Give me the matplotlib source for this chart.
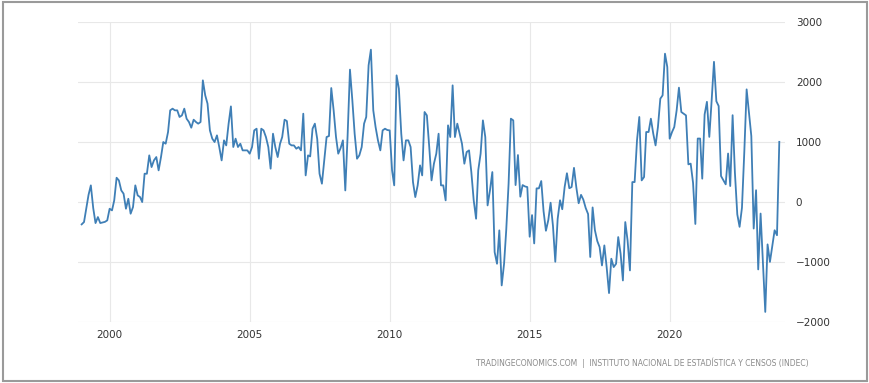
import numpy as np
import pandas as pd
import matplotlib
matplotlib.use("Agg")
import matplotlib.pyplot as plt
import matplotlib.dates as mdates
from matplotlib.patches import Rectangle

# Balanza comercial mensual (USD millones), ene-1999 a dic-2023
valores_por_ano = {
    1999: [-372, -333, -120, 120, 278, -100, -350, -250, -350, -340, -330, -305],
    2000: [-111, -139, 28, 405, 360, 194, 139, -111, 55, -194, -83, 278],
    2001: [111, 83, 0, 472, 472, 778, 583, 694, 750, 528, 750, 1000],
    2002: [972, 1167, 1528, 1556, 1528, 1528, 1417, 1444, 1556, 1389, 1333, 1239],
    2003: [1372, 1333, 1306, 1333, 2028, 1778, 1639, 1194, 1056, 1000, 1111, 917],
    2004: [694, 1028, 944, 1306, 1594, 917, 1056, 917, 972, 861, 861, 861],
    2005: [806, 917, 1194, 1222, 722, 1222, 1194, 1083, 917, 556, 1139, 917],
    2006: [750, 972, 1083, 1372, 1350, 972, 944, 944, 889, 917, 861, 1472],
    2007: [444, 778, 760, 1222, 1306, 1050, 472, 306, 694, 1083, 1100, 1900],
    2008: [1528, 1083, 806, 900, 1028, 194, 1100, 2206, 1694, 1139, 722, 778],
    2009: [917, 1306, 1417, 2278, 2539, 1528, 1250, 1028, 861, 1194, 1222, 1200],
    2010: [1194, 528, 278, 2111, 1889, 1139, 694, 1028, 1028, 917, 333, 83],
    2011: [278, 611, 444, 1500, 1444, 917, 361, 639, 806, 1139, 278, 278],
    2012: [28, 1278, 1083, 1944, 1083, 1306, 1139, 972, 639, 833, 861, 500],
    2013: [28, -278, 528, 806, 1361, 1083, -56, 194, 500, -833, -1028, -472],
    2014: [-1389, -1028, -472, 306, 1389, 1361, 283, 783, 89, 283, 260, 250],
    2015: [-578, -217, -689, 228, 228, 350, -150, -478, -300, -11, -400, -994],
    2016: [-280, 30, -120, 250, 480, 230, 250, 570, 240, -20, 120, 40],
    2017: [-100, -200, -915, -90, -470, -650, -750, -1056, -722, -1083, -1517, -944],
    2018: [-1083, -1028, -583, -861, -1306, -333, -639, -1139, 333, 333, 1028, 1417],
    2019: [361, 417, 1167, 1167, 1389, 1139, 944, 1250, 1722, 1778, 2472, 2250],
    2020: [1056, 1167, 1250, 1528, 1906, 1500, 1472, 1444, 628, 640, 320, -365],
    2021: [1058, 1058, 390, 1460, 1670, 1086, 1680, 2336, 1680, 1600, 433, 364],
    2022: [295, 808, 267, 1447, 490, -205, -413, -95, 850, 1877, 1490, 1100],
    2023: [-441, 197, -1122, -192, -997, -1830, -705, -997, -733, -470, -553, 1003],
}

anos_ticks = [2000, 2005, 2010, 2015, 2020]
y_ticks = [-2000, -1000, 0, 1000, 2000, 3000]
fuente = "TRADINGECONOMICS.COM  |  INSTITUTO NACIONAL DE ESTADÍSTICA Y CENSOS (INDEC)"

valores = np.concatenate([valores_por_ano[a] for a in sorted(valores_por_ano)])
fechas = pd.date_range("1999-01-01", periods=len(valores), freq="MS")

fig = plt.figure(figsize=(8.7, 3.83), dpi=100)
ax = fig.add_axes([0.0897, 0.159, 0.8123, 0.7836])

ax.plot(fechas, valores, color="#3f7fb6", linewidth=1.3)

ax.set_ylim(-2000, 3000)
ax.set_xlim(pd.Timestamp("1998-11-15"), pd.Timestamp("2024-02-10"))

ax.set_yticks(y_ticks)
ax.set_xticks([pd.Timestamp(f"{a}-01-01") for a in anos_ticks])
ax.xaxis.set_major_formatter(mdates.DateFormatter("%Y"))

ax.yaxis.tick_right()
ax.tick_params(axis="both", length=0, labelsize=7.5, colors="#333333")
ax.tick_params(axis="y", pad=8)
ax.tick_params(axis="x", pad=6)
for lab in ax.get_yticklabels():
    lab.set_horizontalalignment("left")

ax.grid(True, color="#e8e8e8", linewidth=0.8)
ax.set_axisbelow(True)
for s in ax.spines.values():
    s.set_visible(False)

fig.text(0.929, 0.052, fuente, ha="right", va="center", fontsize=5.5,
         color="#8a8a8a")

# marco gris alrededor de la imagen
fig.patches.append(Rectangle((0.003, 0.006), 0.993, 0.988, transform=fig.transFigure,
                             fill=False, edgecolor="#9a9a9a", linewidth=1.5))

fig.savefig("out.png", dpi=100)
